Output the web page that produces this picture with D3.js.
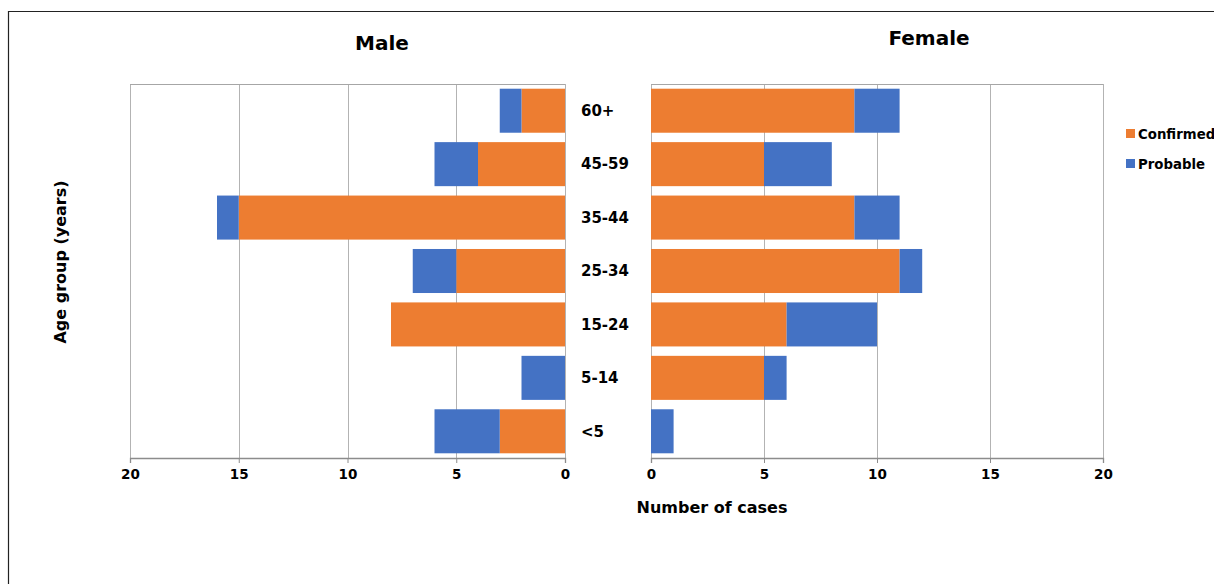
<!DOCTYPE html>
<html><head><meta charset="utf-8">
<script src="https://cdn.jsdelivr.net/npm/d3@7"></script>
<style>body{margin:0;background:#fff}svg{display:block}text{font-family:"DejaVu Sans",Verdana,sans-serif;font-weight:bold;fill:#000}</style>
</head><body><svg id="c" width="1214" height="584"></svg>
<script>
const ageGroups = ["60+","45-59","35-44","25-34","15-24","5-14","<5"];
const maleConfirmed   = [2,4,15,5,8,0,3];
const maleProbable    = [1,2,1,2,0,2,3];
const femaleConfirmed = [9,5,9,11,6,5,0];
const femaleProbable  = [2,3,2,1,4,1,1];
const tickValues = [0,5,10,15,20];
const seriesNames = ["Confirmed","Probable"];
const colors = ["#ED7D31","#4472C4"];

const svg = d3.select("#c");
svg.append("path").attr("d","M8.5,584 V11.5 H1214").attr("fill","none").attr("stroke","#222").attr("stroke-width",1.2);

const plotTop = 84, plotBottom = 458;
const y = d3.scaleBand().domain(ageGroups).range([plotTop,plotBottom]).paddingInner(0.176).paddingOuter(0.088);
const xM = d3.scaleLinear().domain([0,20]).range([565,130]);
const xF = d3.scaleLinear().domain([0,20]).range([651,1103]);

function panel(x, conf, prob, title, titleX, titleY){
  const g = svg.append("g");
  g.selectAll("line.grid").data(tickValues).join("line")
    .attr("x1",d=>Math.round(x(d))+0.5).attr("x2",d=>Math.round(x(d))+0.5)
    .attr("y1",plotTop).attr("y2",plotBottom).attr("stroke","#b3b3b3").attr("stroke-width",1);
  g.append("line").attr("x1",x.range()[0]).attr("x2",x.range()[1]).attr("y1",plotTop+0.5).attr("y2",plotTop+0.5)
    .attr("stroke","#a6a6a6");
  ageGroups.forEach((a,i)=>{
    const c = conf[i], p = prob[i];
    const segs = [[0,c,colors[0]],[c,c+p,colors[1]]];
    segs.forEach(s=>{
      if (s[1]>s[0]) {
        const x0 = x(s[0]), x1 = x(s[1]);
        g.append("rect").attr("x",Math.min(x0,x1)).attr("width",Math.abs(x1-x0))
          .attr("y",y(a)).attr("height",y.bandwidth()).attr("fill",s[2]);
      }
    });
  });
  const ax = g.append("g").attr("transform",`translate(0,${plotBottom})`)
    .call(d3.axisBottom(x).tickValues(tickValues).tickSize(5).tickPadding(6));
  ax.select(".domain").attr("stroke","#8c8c8c").attr("stroke-width",1.3);
  ax.selectAll(".tick line").attr("stroke","#8c8c8c");
  ax.selectAll(".tick text").attr("font-size",13.5).attr("font-family","DejaVu Sans").attr("font-weight","bold").attr("fill","#000");
  g.append("text").attr("x",titleX).attr("y",titleY).attr("text-anchor","middle").attr("font-size",20).text(title);
}
panel(xM, maleConfirmed, maleProbable, "Male", 382, 50);
panel(xF, femaleConfirmed, femaleProbable, "Female", 929, 45);

svg.selectAll("text.age").data(ageGroups).join("text").attr("class","age")
  .attr("x",581).attr("y",d=>y(d)+y.bandwidth()/2).attr("dy","0.35em")
  .attr("text-anchor","start").attr("font-size",15).text(d=>d);

svg.append("text").attr("x",712).attr("y",513).attr("text-anchor","middle").attr("font-size",16).text("Number of cases");
svg.append("text").attr("transform","translate(66,262) rotate(-90)").attr("text-anchor","middle").attr("font-size",16).text("Age group (years)");

const lg = svg.append("g");
seriesNames.forEach((n,i)=>{
  lg.append("rect").attr("x",1126).attr("y",129+i*30).attr("width",9).attr("height",9).attr("fill",colors[i]);
  lg.append("text").attr("x",1138).attr("y",134+i*30).attr("dy","0.35em").attr("font-size",13.3).text(n);
});
</script></body></html>
